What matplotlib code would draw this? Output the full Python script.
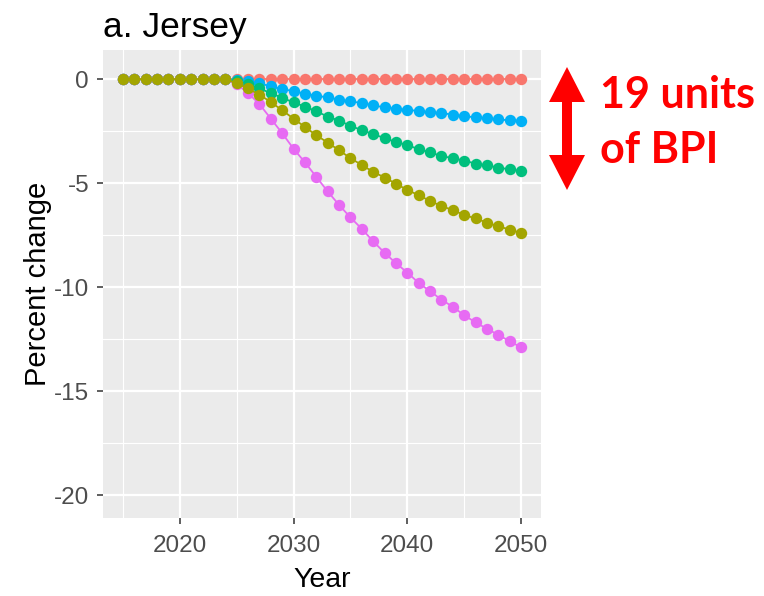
import matplotlib
matplotlib.use("Agg")
import matplotlib.pyplot as plt
from matplotlib.patches import Polygon
from matplotlib.ticker import MultipleLocator

years = list(range(2015, 2051))

# Percent change in BPI by scenario (identical before 2025)
pre = [0.0] * 10
scenario_red = pre + [0.0] * 26
scenario_blue = pre + [-0.05, -0.1, -0.2, -0.35, -0.48, -0.58, -0.7, -0.8, -0.88, -0.98,
                       -1.07, -1.15, -1.26, -1.36, -1.42, -1.48, -1.53, -1.6, -1.63, -1.71,
                       -1.78, -1.84, -1.89, -1.94, -1.98, -2.0]
scenario_green = pre + [-0.1, -0.25, -0.45, -0.67, -0.9, -1.12, -1.32, -1.55, -1.8, -2.0,
                        -2.24, -2.46, -2.64, -2.84, -3.02, -3.17, -3.37, -3.52, -3.7, -3.8,
                        -3.92, -4.06, -4.15, -4.25, -4.34, -4.42]
scenario_olive = pre + [-0.2, -0.45, -0.75, -1.1, -1.5, -1.9, -2.3, -2.7, -3.05, -3.42,
                        -3.8, -4.13, -4.46, -4.73, -5.03, -5.33, -5.58, -5.86, -6.1, -6.3,
                        -6.53, -6.7, -6.9, -7.08, -7.23, -7.4]
scenario_magenta = pre + [-0.25, -0.67, -1.2, -1.9, -2.6, -3.35, -4.0, -4.7, -5.4, -6.05,
                          -6.65, -7.2, -7.8, -8.35, -8.85, -9.3, -9.8, -10.2, -10.6, -10.95,
                          -11.35, -11.7, -12.0, -12.3, -12.6, -12.9]

series = [
    (scenario_red, "#F8766D"),
    (scenario_blue, "#00B0F6"),
    (scenario_green, "#00BF7D"),
    (scenario_magenta, "#E76BF3"),
    (scenario_olive, "#A3A500"),
]

plt.rcParams["font.family"] = ["Liberation Sans", "DejaVu Sans"]
plt.rcParams["axes.unicode_minus"] = False

W, H = 764, 596
fig = plt.figure(figsize=(W / 100, H / 100), dpi=100)
ax = fig.add_axes([103 / W, 1 - 518 / H, (541 - 103) / W, (518 - 50) / H])

ax.set_facecolor("#EBEBEB")
for s in ax.spines.values():
    s.set_visible(False)

for vals, col in series:
    ax.plot(years, vals, color=col, lw=1.3, marker="o", ms=8.2,
            markeredgewidth=0, zorder=3)

ax.set_xlim(2013.25, 2051.75)
ax.set_ylim(-21.1, 1.4)
ax.xaxis.set_major_locator(MultipleLocator(10))
ax.xaxis.set_minor_locator(MultipleLocator(5))
ax.yaxis.set_major_locator(MultipleLocator(5))
ax.yaxis.set_minor_locator(MultipleLocator(2.5))
ax.grid(which="major", color="white", lw=1.6, zorder=0)
ax.grid(which="minor", color="white", lw=0.8, zorder=0)
ax.set_axisbelow(True)

ax.tick_params(which="major", length=4, width=1.1, color="#333333",
               labelcolor="#4D4D4D", labelsize=17.5)
ax.tick_params(axis="x", pad=8.5)
ax.tick_params(axis="y", pad=6)
ax.tick_params(which="minor", length=0)

ax.set_xlabel("Year", fontsize=20.5, color="black", labelpad=7)
ax.set_ylabel("Percent change", fontsize=21, color="black", labelpad=1)
ax.set_title("a. Jersey", fontsize=25.5, color="black", loc="left", pad=9, x=0)

# Double-headed arrow beside the panel
to_fig = lambda px, py: (px / W, 1 - py / H)
arrow_pts = [(567, 67), (585, 102), (572, 102), (572, 155), (585, 155), (567, 190),
             (549, 155), (562, 155), (562, 102), (549, 102)]
fig.patches.append(Polygon([to_fig(*p) for p in arrow_pts], closed=True,
                           facecolor="#FF0000", edgecolor="none",
                           transform=fig.transFigure))

fig.text(600 / W, 1 - 95 / H, "19 units", color="#FF0000", fontsize=31,
         fontweight="bold", family=["Lato", "DejaVu Sans"], va="center", ha="left")
fig.text(600 / W, 1 - 150 / H, "of BPI", color="#FF0000", fontsize=31,
         fontweight="bold", family=["Lato", "DejaVu Sans"], va="center", ha="left")

fig.savefig("out.png", dpi=100, facecolor="white")
